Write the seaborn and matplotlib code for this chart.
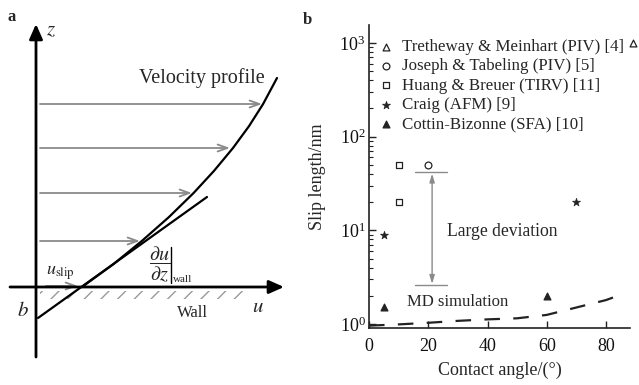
import numpy as np
import pandas as pd
import matplotlib
matplotlib.use("Agg")
import matplotlib.pyplot as plt
import seaborn as sns
from matplotlib.patches import Rectangle
from matplotlib.ticker import LogLocator, LogFormatterMathtext, NullFormatter, FixedLocator

# ---------------- panel b data ----------------
series_labels = ["Tretheway & Meinhart (PIV) [4]", "Joseph & Tabeling (PIV) [5]",
                 "Huang & Breuer (TIRV) [11]", "Craig (AFM) [9]", "Cottin-Bizonne (SFA) [10]"]
tretheway_angle = [89]
tretheway_slip = [1000]
joseph_angle = [20]
joseph_slip = [50]
huang_angle = [10, 10]
huang_slip = [50, 20]
craig_angle = [5, 70]
craig_slip = [9, 20]
cottin_angle = [5, 60]
cottin_slip = [1.5, 2.0]
md_angle = [0, 10, 20, 30, 40, 50, 60, 70, 80, 84]
md_slip = [0.96, 0.99, 1.03, 1.08, 1.12, 1.15, 1.25, 1.5, 1.8, 2.0]
x_ticks = [0, 20, 40, 60, 80]
y_ticks = [1, 10, 100, 1000]
deviation_angle = 21.3
deviation_span = [15.5, 26.3]
deviation_top = 42
deviation_bottom = 2.6

# ---------------- panel a (schematic) values ----------------
profile_z = [0, 23, 46, 70, 94, 116, 139, 161, 183, 209]
profile_u = [46, 77.6, 105.8, 133, 157.6, 177.9, 197, 213.1, 227.1, 241]
arrow_z = [46, 94, 139, 183]
arrow_u = [104, 156, 194, 226]
arrow_start_u = 4
tangent_u = [2, 171]
tangent_z = [-31, 90]

sns.set_style("ticks")
plt.rcParams["font.family"] = ["Liberation Serif", "DejaVu Serif"]
plt.rcParams["mathtext.fontset"] = "stix"
plt.rcParams["hatch.linewidth"] = 1.0

fig = plt.figure(figsize=(6.39, 3.85), dpi=100)

# ---------- panel a ----------
ax_a = fig.add_axes([0, 0, 300 / 639, 1])
ax_a.set_xlim(-36, 264)
ax_a.set_ylim(-98, 287)
ax_a.axis("off")

gray = "#8a8a8a"
ax_a.add_patch(Rectangle((4, -12), 208, 8, hatch="//", facecolor="none",
                         edgecolor="#9a9a9a", linewidth=0, zorder=1))

for z, u in zip(arrow_z, arrow_u):
    ax_a.annotate("", xy=(u, z), xytext=(arrow_start_u, z),
                  arrowprops=dict(arrowstyle="->,head_length=0.7,head_width=0.25",
                                  color=gray, lw=1.3, shrinkA=0, shrinkB=0))
ax_a.annotate("", xy=(42, 1), xytext=(10, 1),
              arrowprops=dict(arrowstyle="->,head_length=0.7,head_width=0.25",
                              color=gray, lw=1.3, shrinkA=0, shrinkB=0), zorder=2)

sns.lineplot(x=profile_u, y=profile_z, ax=ax_a, color="black", lw=1.6,
             sort=False, estimator=None, zorder=4)
sns.lineplot(x=tangent_u, y=tangent_z, ax=ax_a, color="black", lw=1.6,
             sort=False, estimator=None, zorder=4)

ax_a.annotate("", xy=(0, 263), xytext=(0, -70),
              arrowprops=dict(arrowstyle="-|>,head_length=0.9,head_width=0.4",
                              color="black", lw=2, shrinkA=0, shrinkB=0), zorder=5)
ax_a.annotate("", xy=(248, 0), xytext=(-26, 0),
              arrowprops=dict(arrowstyle="-|>,head_length=0.9,head_width=0.4",
                              color="black", lw=2, shrinkA=0, shrinkB=0), zorder=5)

ax_a.text(-24, 270, "a", fontsize=12, fontweight="bold", ha="center", va="center")
ax_a.text(15, 256, "$z$", fontsize=15, ha="center", va="center")
ax_a.text(222, -20, "$u$", fontsize=15, ha="center", va="center")
ax_a.text(-13, -24, "$b$", fontsize=15, ha="center", va="center")
ax_a.text(156, -26, "Wall", fontsize=12, ha="center", va="center")
ax_a.text(166, 209, "Velocity profile", fontsize=14.5, ha="center", va="center")
ax_a.text(24, 14, r"$u_{\rm slip}$", fontsize=13, ha="center", va="center")
ax_a.text(124, 23, r"$\dfrac{\partial u}{\partial z}$", fontsize=14.5,
          ha="center", va="center")
ax_a.plot([135, 135], [4, 40], color="black", lw=1.0)
ax_a.text(137, 7, "wall", fontsize=8, ha="left", va="center")

# ---------- panel b ----------
ax_b = fig.add_axes([369 / 639, 1 - 328 / 385, 261 / 639, 303 / 385])
dark = "#222222"
common = dict(ax=ax_b, s=24, linewidth=0.9, clip_on=False, zorder=5)
sns.scatterplot(x=tretheway_angle, y=tretheway_slip, marker="^", color="white",
                edgecolor=dark, label=series_labels[0], **common)
sns.scatterplot(x=joseph_angle, y=joseph_slip, marker="o", color="white",
                edgecolor=dark, label=series_labels[1], **common)
sns.scatterplot(x=huang_angle, y=huang_slip, marker="s", color="white",
                edgecolor=dark, label=series_labels[2], **common)
sns.scatterplot(x=craig_angle, y=craig_slip, marker="*", color=dark,
                edgecolor=dark, label=series_labels[3], ax=ax_b, s=36,
                linewidth=0.5, clip_on=False, zorder=5)
sns.scatterplot(x=cottin_angle, y=cottin_slip, marker="^", color=dark,
                edgecolor=dark, label=series_labels[4], **common)

sns.lineplot(x=md_angle, y=md_slip, ax=ax_b, color=dark, lw=1.6)
ax_b.lines[-1].set_dashes((7, 6))

# large deviation annotation
ax_b.plot(deviation_span, [deviation_top, deviation_top], color=gray, lw=1.0)
ax_b.plot(deviation_span, [deviation_bottom, deviation_bottom], color=gray, lw=1.0)
ax_b.annotate("", xy=(deviation_angle, deviation_bottom * 1.03),
              xytext=(deviation_angle, deviation_top * 0.96),
              arrowprops=dict(arrowstyle="<|-|>,head_length=0.5,head_width=0.15",
                              color=gray, lw=1.0, shrinkA=0, shrinkB=0))
ax_b.text(26.3, 9.8, "Large deviation", fontsize=12.7, ha="left", va="center")
ax_b.text(12.8, 1.72, "MD simulation", fontsize=12, ha="left", va="center")

ax_b.set_yscale("log")
ax_b.set_xlim(0, 88.1)
ax_b.set_ylim(0.906, 1556)
ax_b.xaxis.set_major_locator(FixedLocator(x_ticks))
ax_b.yaxis.set_major_locator(FixedLocator(y_ticks))
ax_b.yaxis.set_major_formatter(LogFormatterMathtext())
ax_b.yaxis.set_minor_locator(LogLocator(base=10, subs=np.arange(2, 10)))
ax_b.yaxis.set_minor_formatter(NullFormatter())
ax_b.tick_params(axis="both", which="major", direction="in", length=5, width=1,
                 colors=dark, labelsize=13, labelcolor="#111111")
ax_b.tick_params(axis="x", pad=7)
ax_b.tick_params(axis="y", pad=2.5)
ax_b.tick_params(axis="y", which="minor", direction="in", length=3, width=0.8, colors=dark)
for side in ["top", "right"]:
    ax_b.spines[side].set_visible(False)
for side in ["left", "bottom"]:
    ax_b.spines[side].set_color(dark)
    ax_b.spines[side].set_linewidth(1.2)
ax_b.set_xlabel("Contact angle/(°)", fontsize=13, labelpad=5)
ax_b.set_ylabel("Slip length/nm", fontsize=13, labelpad=10)

handles, labels = ax_b.get_legend_handles_labels()
leg = ax_b.legend(handles[:5], labels[:5], loc="upper left", frameon=False,
                  bbox_to_anchor=(379 / 639, 1 - 39 / 385), bbox_transform=fig.transFigure,
                  fontsize=12.2, handlelength=0.8, handletextpad=0.55,
                  labelspacing=0.2, borderpad=0, borderaxespad=0)

fig.text(307 / 639, 1 - 20 / 385, "b", fontsize=12, fontweight="bold",
         ha="center", va="center")

fig.savefig("out.png", dpi=100)
